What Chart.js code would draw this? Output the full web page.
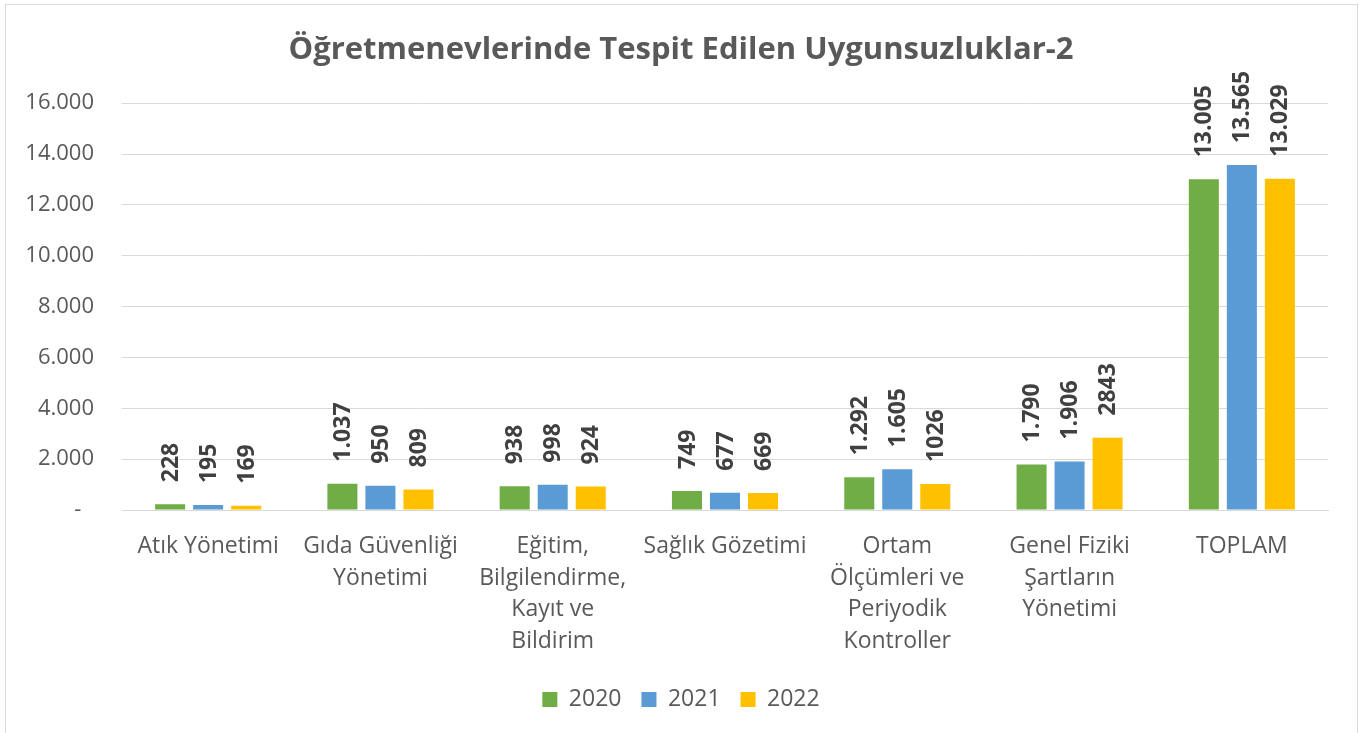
<!DOCTYPE html>
<html>
<head>
<meta charset="utf-8">
<script src="https://cdn.jsdelivr.net/npm/chart.js@4"></script>
<style>
  body { margin: 0; background: #fff; }
  #wrap { width: 1362px; height: 733px; }
</style>
</head>
<body>
<div id="wrap"><canvas id="uygunsuzluk"></canvas></div>
<script>
var categories = [
    'Atık Yönetimi',
    ['Gıda Güvenliği', 'Yönetimi'],
    ['Eğitim,', 'Bilgilendirme,', 'Kayıt ve', 'Bildirim'],
    'Sağlık Gözetimi',
    ['Ortam', 'Ölçümleri ve', 'Periyodik', 'Kontroller'],
    ['Genel Fiziki', 'Şartların', 'Yönetimi'],
    'TOPLAM'
];
var years = ['2020', '2021', '2022'];
var values2020 = [228, 1037, 938, 749, 1292, 1790, 13005];
var values2021 = [195, 950, 998, 677, 1605, 1906, 13565];
var values2022 = [169, 809, 924, 669, 1026, 2843, 13029];
// etiketler grafikteki gibi yazildi (1026 ve 2843 noktasiz)
var labels2020 = ['228', '1.037', '938', '749', '1.292', '1.790', '13.005'];
var labels2021 = ['195', '950', '998', '677', '1.605', '1.906', '13.565'];
var labels2022 = ['169', '809', '924', '669', '1026', '2843', '13.029'];
var yTicks = [0, 2000, 4000, 6000, 8000, 10000, 12000, 14000, 16000];
var colors = ['#70AD47', '#5B9BD5', '#FFC000'];

var FONT = "'Open Sans', sans-serif";
var textGrey = '#595959';

function formatNum(v) {
    if (v === 0) return '-\u2007';
    return v.toString().replace(/\B(?=(\d{3})+(?!\d))/g, '.');
}

var frame = {
    id: 'frame',
    beforeDraw: function(chart) {
        var ctx = chart.ctx;
        ctx.save();
        ctx.fillStyle = '#fff';
        ctx.fillRect(0, 0, chart.width, chart.height);
        ctx.strokeStyle = '#D9D9D9';
        ctx.lineWidth = 1;
        ctx.strokeRect(5.5, 4.5, 1352, 740);
        ctx.restore();
    }
};

var barLabels = {
    id: 'barLabels',
    afterDatasetsDraw: function(chart) {
        var ctx = chart.ctx;
        var all = [labels2020, labels2021, labels2022];
        chart.data.datasets.forEach(function(ds, i) {
            var meta = chart.getDatasetMeta(i);
            meta.data.forEach(function(bar, j) {
                ctx.save();
                ctx.translate(bar.x, bar.y - 22);
                ctx.rotate(-Math.PI / 2);
                ctx.font = 'bold 23px ' + FONT;
                ctx.fillStyle = '#404040';
                ctx.textAlign = 'left';
                ctx.textBaseline = 'middle';
                ctx.fillText(all[i][j], 0, 1);
                ctx.restore();
            });
        });
    }
};

var ctx = document.getElementById('uygunsuzluk').getContext('2d');
var chart = new Chart(ctx, {
    type: 'bar',
    data: {
        labels: categories,
        datasets: [
            { label: years[0], data: values2020, backgroundColor: colors[0] },
            { label: years[1], data: values2021, backgroundColor: colors[1] },
            { label: years[2], data: values2022, backgroundColor: colors[2] }
        ]
    },
    options: {
        responsive: true,
        maintainAspectRatio: false,
        animation: false,
        categoryPercentage: 0.662,
        barPercentage: 0.79,
        layout: { padding: { left: 0, right: 0, top: 0, bottom: 12 } },
        plugins: {
            title: {
                display: true,
                text: 'Öğretmenevlerinde Tespit Edilen Uygunsuzluklar-2',
                color: textGrey,
                font: { family: FONT, size: 31, weight: 'bold' },
                padding: { top: 32, bottom: 34 }
            },
            legend: {
                position: 'bottom',
                labels: {
                    boxWidth: 15,
                    boxHeight: 15,
                    color: textGrey,
                    font: { family: FONT, size: 23 },
                    padding: 20
                }
            },
            tooltip: { enabled: false }
        },
        scales: {
            x: {
                grid: { display: false, drawTicks: false },
                border: { color: '#D9D9D9' },
                ticks: {
                    color: textGrey,
                    font: { family: FONT, size: 23, lineHeight: 1.39 },
                    maxRotation: 0,
                    autoSkip: false,
                    padding: 20
                },
                afterFit: function(scale) { scale.height = 158; }
            },
            y: {
                min: 0,
                max: 16000,
                afterBuildTicks: function(scale) {
                    scale.ticks = yTicks.map(function(v) { return { value: v }; });
                },
                grid: { color: '#D9D9D9', drawTicks: false },
                border: { display: false },
                ticks: {
                    color: textGrey,
                    font: { family: FONT, size: 22 },
                    padding: 28,
                    callback: function(v) { return formatNum(v); }
                },
                afterFit: function(scale) { scale.width = 122; }
            },
            // sag tarafta bos bir eksen: baslik ve lejant tuval ortasinda kalsin
            yRight: {
                position: 'right',
                grid: { display: false },
                border: { display: false },
                ticks: { display: false },
                afterFit: function(scale) { scale.width = 34; }
            }
        }
    },
    plugins: [frame, barLabels]
});
</script>
</body>
</html>
